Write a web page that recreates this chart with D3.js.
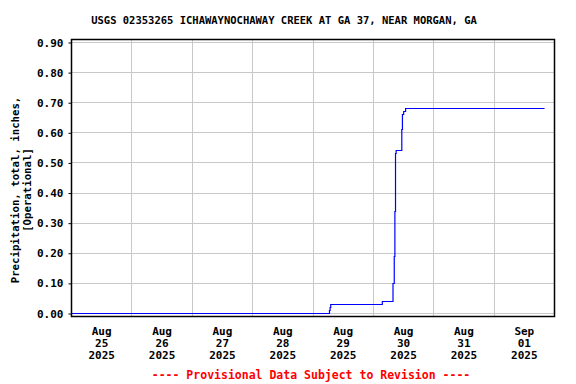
<!DOCTYPE html>
<html>
<head>
<meta charset="utf-8">
<script src="https://cdn.jsdelivr.net/npm/d3@7"></script>
<style>
  body { margin: 0; background: #fff; }
  svg { display: block; }
  text { font-family: "DejaVu Sans Mono", "Liberation Mono", monospace; font-weight: bold; }
</style>
</head>
<body>
<div id="chart"></div>
<script>
// chart data (15-minute steps)
var times = ["2025-08-25T00:00", "2025-08-29T06:45", "2025-08-29T07:00", "2025-08-29T07:15",
             "2025-08-30T03:45", "2025-08-30T08:00", "2025-08-30T08:30", "2025-08-30T08:45",
             "2025-08-30T09:00", "2025-08-30T09:15", "2025-08-30T11:30", "2025-08-30T11:45",
             "2025-08-30T12:15", "2025-08-30T13:00", "2025-09-01T20:15"];
var values = [0.00, 0.01, 0.02, 0.03,
              0.04, 0.10, 0.19, 0.34,
              0.53, 0.54, 0.61, 0.66,
              0.67, 0.68, 0.68];
var yTicks = [0, 0.1, 0.2, 0.3, 0.4, 0.5, 0.6, 0.7, 0.8, 0.9];
var dayLabels = ["2025-08-25T12:00", "2025-08-26T12:00", "2025-08-27T12:00", "2025-08-28T12:00",
                 "2025-08-29T12:00", "2025-08-30T12:00", "2025-08-31T12:00", "2025-09-01T12:00"];
var xStart = "2025-08-25T00:00", xEnd = "2025-09-02T00:00";

var title = "USGS 02353265 ICHAWAYNOCHAWAY CREEK AT GA 37, NEAR MORGAN, GA";
var yTitle = ["Precipitation, total, inches,", "[Operational]"];
var footer = "---- Provisional Data Subject to Revision ----";

var width = 576, height = 384;
// window.top is read-only, so plot edges get their own names
var pLeft = 71, pRight = 554, pTop = 39, pBottom = 316;

var parse = d3.utcParse("%Y-%m-%dT%H:%M");
var data = times.map(function(t, i) { return {t: parse(t), v: values[i]}; });

var x = d3.scaleUtc().domain([parse(xStart), parse(xEnd)]).range([pLeft, pRight]);
var y = d3.scaleLinear().domain([0, 0.9]).range([313, 42]);

var svg = d3.select("#chart").append("svg")
    .attr("width", width).attr("height", height)
    .style("background-color", "#fff");

// grid
var midnights = d3.utcDay.range(parse(xStart), parse(xEnd)).slice(1);
svg.append("g").selectAll("line").data(midnights).enter().append("line")
    .attr("x1", function(d) { return Math.round(x(d)) + 0.5; })
    .attr("x2", function(d) { return Math.round(x(d)) + 0.5; })
    .attr("y1", pTop).attr("y2", pBottom)
    .attr("stroke", "#c8c8c8").attr("stroke-width", 1);
svg.append("g").selectAll("line").data(yTicks).enter().append("line")
    .attr("x1", pLeft).attr("x2", pRight)
    .attr("y1", function(d) { return Math.round(y(d)) + 0.5; })
    .attr("y2", function(d) { return Math.round(y(d)) + 0.5; })
    .attr("stroke", "#c8c8c8").attr("stroke-width", 1);

// the series
var line = d3.line()
    .x(function(d) { return x(d.t); })
    .y(function(d) { return Math.round(y(d.v)) + 0.5; })
    .curve(d3.curveStepAfter);
svg.append("path").datum(data)
    .attr("d", line)
    .attr("fill", "none")
    .attr("stroke", "#0000ff")
    .attr("stroke-width", 1.2);

// frame
svg.append("rect")
    .attr("x", pLeft + 0.5).attr("y", pTop + 0.5)
    .attr("width", pRight - pLeft).attr("height", pBottom - pTop)
    .attr("fill", "none").attr("stroke", "#000").attr("stroke-width", 1.5);

// y axis
var yAxis = svg.append("g")
    .attr("transform", "translate(" + (pLeft + 0.5) + ",0.5)")
    .call(d3.axisLeft(y).tickValues(yTicks).tickSize(3).tickPadding(5).tickFormat(d3.format(".2f")));
yAxis.select(".domain").remove();
yAxis.selectAll("line").attr("stroke", "#000");
yAxis.selectAll("text").style("font-size", "11px").attr("fill", "#000")
    .style("font-family", "DejaVu Sans Mono").style("font-weight", "bold");

// x axis labels, three lines each
var xAxis = svg.append("g")
    .attr("transform", "translate(0," + pBottom + ")")
    .call(d3.axisBottom(x).tickValues(dayLabels.map(parse)).tickSize(0).tickPadding(0).tickFormat(""));
xAxis.select(".domain").remove();
var fmts = [d3.utcFormat("%b"), d3.utcFormat("%d"), d3.utcFormat("%Y")];
xAxis.selectAll(".tick").each(function(d) {
    var tx = d3.select(this).append("text")
        .attr("text-anchor", "middle")
        .attr("fill", "#000")
        .style("font-size", "11px");
    fmts.forEach(function(f, i) {
        tx.append("tspan").attr("x", 0).attr("y", 19 + i * 12).text(f(d));
    });
});

// titles
svg.append("text")
    .attr("x", 284).attr("y", 24)
    .attr("text-anchor", "middle")
    .style("font-size", "10.5px")
    .text(title);

svg.append("g").attr("transform", "translate(19,190) rotate(-90)")
  .selectAll("text").data(yTitle).enter().append("text")
    .attr("x", 0).attr("y", function(d, i) { return i * 12; })
    .attr("text-anchor", "middle")
    .style("font-size", "10.7px")
    .text(function(d) { return d; });

svg.append("text")
    .attr("x", 311).attr("y", 379)
    .attr("text-anchor", "middle")
    .attr("fill", "#ff0000")
    .style("font-size", "11.5px")
    .text(footer);
</script>
</body>
</html>
